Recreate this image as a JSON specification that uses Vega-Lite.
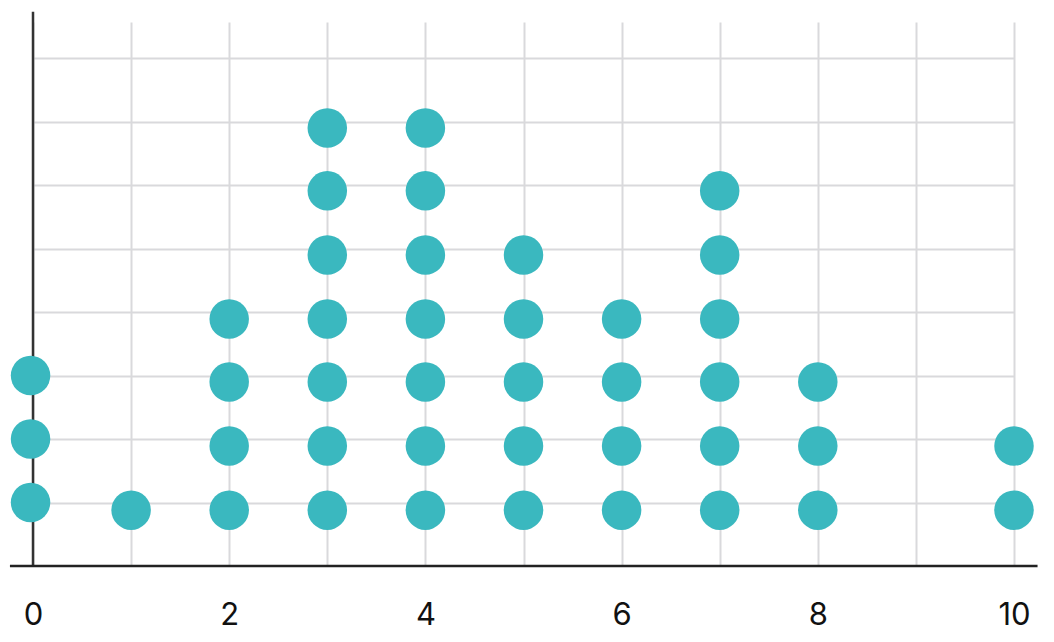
{
  "$schema": "https://vega.github.io/schema/vega-lite/v6.json",
  "width": 981,
  "height": 544,
  "autosize": "none",
  "padding": {"left": 33, "top": 22, "right": 40, "bottom": 76},
  "background": "#ffffff",
  "view": {"stroke": null},
  "config": {
    "font": "Inter",
    "axis": {"labelFont": "Inter", "labelColor": "#111111"}
  },
  "datasets": {
    "dots": [
      {"value": -0.025, "level": 1.0},
      {"value": -0.025, "level": 2.0},
      {"value": -0.025, "level": 3.0},
      {"value": 1, "level": 0.88},
      {"value": 2, "level": 0.88},
      {"value": 2, "level": 1.89},
      {"value": 2, "level": 2.9},
      {"value": 2, "level": 3.89},
      {"value": 3, "level": 0.88},
      {"value": 3, "level": 1.89},
      {"value": 3, "level": 2.9},
      {"value": 3, "level": 3.89},
      {"value": 3, "level": 4.9},
      {"value": 3, "level": 5.91},
      {"value": 3, "level": 6.9},
      {"value": 4, "level": 0.88},
      {"value": 4, "level": 1.89},
      {"value": 4, "level": 2.9},
      {"value": 4, "level": 3.89},
      {"value": 4, "level": 4.9},
      {"value": 4, "level": 5.91},
      {"value": 4, "level": 6.9},
      {"value": 5, "level": 0.88},
      {"value": 5, "level": 1.89},
      {"value": 5, "level": 2.9},
      {"value": 5, "level": 3.89},
      {"value": 5, "level": 4.9},
      {"value": 6, "level": 0.88},
      {"value": 6, "level": 1.89},
      {"value": 6, "level": 2.9},
      {"value": 6, "level": 3.89},
      {"value": 7, "level": 0.88},
      {"value": 7, "level": 1.89},
      {"value": 7, "level": 2.9},
      {"value": 7, "level": 3.89},
      {"value": 7, "level": 4.9},
      {"value": 7, "level": 5.91},
      {"value": 8, "level": 0.88},
      {"value": 8, "level": 1.89},
      {"value": 8, "level": 2.9},
      {"value": 10, "level": 0.88},
      {"value": 10, "level": 1.89}
    ]
  },
  "layer": [
    {
      "data": {"values": [{}]},
      "mark": {"type": "rule", "color": "#333333", "strokeWidth": 2.5, "clip": false},
      "encoding": {
        "x": {"datum": 0},
        "y": {"datum": 0},
        "y2": {"datum": 8.73}
      }
    },
    {
      "data": {"name": "dots"},
      "mark": {"type": "circle", "color": "#3AB8BF", "opacity": 1, "size": 1560, "clip": false},
      "encoding": {
        "x": {
          "field": "value",
          "type": "quantitative",
          "scale": {"domain": [0, 10], "nice": false, "zero": false},
          "axis": {
            "title": null,
            "values": [0, 1, 2, 3, 4, 5, 6, 7, 8, 9, 10],
            "format": "d",
            "labelExpr": "datum.value % 2 == 0 ? datum.label : ''",
            "domain": false,
            "ticks": false,
            "labelPadding": 49,
            "labelBaseline": "middle",
            "labelFontSize": 31,
            "labelFlush": false,
            "labelOverlap": false,
            "grid": true,
            "gridColor": "#d9d9dc",
            "gridWidth": 2,
            "zindex": 0
          }
        },
        "y": {
          "field": "level",
          "type": "quantitative",
          "scale": {"domain": [0, 8.57], "nice": false},
          "axis": {
            "title": null,
            "values": [1, 2, 3, 4, 5, 6, 7, 8],
            "domain": false,
            "ticks": false,
            "labels": false,
            "grid": true,
            "gridColor": "#d9d9dc",
            "gridWidth": 2,
            "zindex": 0
          }
        }
      }
    },
    {
      "data": {"values": [{}]},
      "mark": {"type": "rule", "color": "#222222", "strokeWidth": 2.5, "clip": false},
      "encoding": {
        "x": {"datum": -0.235},
        "x2": {"datum": 10.24},
        "y": {"datum": 0}
      }
    }
  ]
}
